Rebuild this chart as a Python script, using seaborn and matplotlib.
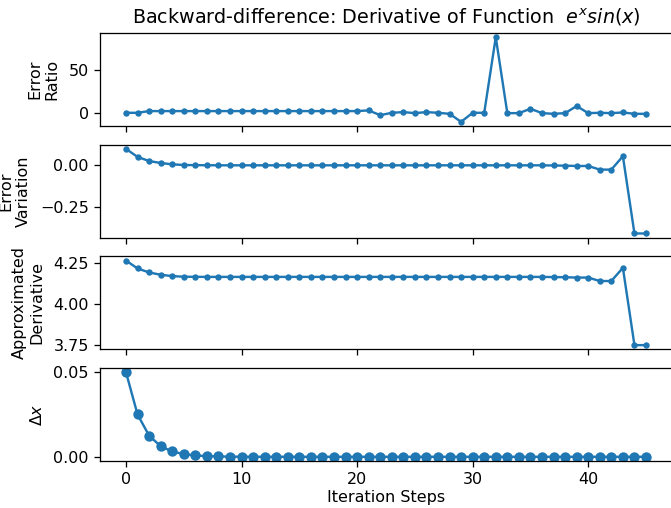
import numpy as np
import pandas as pd
import matplotlib
matplotlib.use("Agg")
import matplotlib.pyplot as plt
import seaborn as sns

# iteration index 0..45
steps = list(range(46))

# values
error_ratio = [0.0, 0.0, 2.0, 2.0, 2.0, 2.0, 2.0, 2.0, 2.0, 2.0,
               2.0, 2.0, 2.0, 2.0, 2.0, 2.0, 2.0, 2.0, 2.0, 2.0,
               2.0, 2.8, -2.8, 0.0, 0.8, -0.4, 0.8, 0.0, -1.2, -10.6,
               0.0, 0.0, 88.6, -0.4, -0.4, 4.7, -0.4, -1.2, -0.4, 7.9,
               -0.4, 0.0, -0.4, 0.4, -1.2, -1.2]

error_variation = [0.0995, 0.051, 0.026, 0.014, 0.006, 0.002, 0.001, 0.0005, 0.0, 0.0,
                   0.0, 0.0, 0.0, 0.0, 0.0, 0.0, 0.0, 0.0, 0.0, 0.0,
                   0.0, 0.0, 0.0, 0.0, 0.0, 0.0, 0.0, 0.0, 0.0, 0.0,
                   0.0, 0.0, 0.0, 0.0, 0.0, 0.0, 0.0, -0.001, -0.002, -0.004,
                   -0.004, -0.026, -0.026, 0.055, -0.413, -0.413]

approx_derivative = [4.264, 4.216, 4.192, 4.178, 4.170, 4.166, 4.1655, 4.165, 4.165, 4.165,
                     4.165, 4.165, 4.165, 4.165, 4.165, 4.165, 4.165, 4.165, 4.165, 4.165,
                     4.165, 4.165, 4.165, 4.165, 4.165, 4.165, 4.165, 4.165, 4.165, 4.165,
                     4.165, 4.165, 4.165, 4.165, 4.165, 4.165, 4.165, 4.164, 4.163, 4.161,
                     4.161, 4.140, 4.140, 4.220, 3.752, 3.752]

delta_x = [0.05, 0.025, 0.0125, 0.00625, 0.003125, 0.0015625, 0.00078, 0.00039, 0.0002, 0.0001,
           0.00005, 0.000024, 0.000012, 0.000006, 0.000003, 0.0000015, 0.0, 0.0, 0.0, 0.0,
           0.0, 0.0, 0.0, 0.0, 0.0, 0.0, 0.0, 0.0, 0.0, 0.0,
           0.0, 0.0, 0.0, 0.0, 0.0, 0.0, 0.0, 0.0, 0.0, 0.0,
           0.0, 0.0, 0.0, 0.0, 0.0, 0.0]

df = pd.DataFrame({
    'step': steps,
    'ratio': error_ratio,
    'variation': error_variation,
    'approx': approx_derivative,
    'dx': delta_x,
})

fig, axes = plt.subplots(4, 1, sharex=True, figsize=(671 / 115, 508 / 115), dpi=115)
fig.subplots_adjust(left=0.149, right=1.0015, top=0.935, bottom=0.0925, hspace=0.2)

cols = ['ratio', 'variation', 'approx', 'dx']
labels = ['Error\nRatio', 'Error\nVariation', 'Approximated\nDerivative', r'$\Delta x$']
msizes = [4, 4, 4, 6.5]

for ax, col, lab, ms in zip(axes, cols, labels, msizes):
    sns.lineplot(data=df, x='step', y=col, ax=ax, marker='o', markersize=ms,
                 color='C0', markeredgecolor='C0', markeredgewidth=0, linewidth=1.5)
    ax.set_ylabel(lab, labelpad=5.5)
    ax.set_xlabel('')

axes[0].set_yticks([0, 50])
axes[1].set_yticks([-0.25, 0.0])
axes[3].set_yticks([0.0, 0.05])
axes[3].set_xlabel('Iteration Steps', labelpad=2)

axes[0].set_title(r'Backward-difference: Derivative of Function  $e^x sin(x)$', fontsize=12)

fig.savefig('out.png', dpi=115)
